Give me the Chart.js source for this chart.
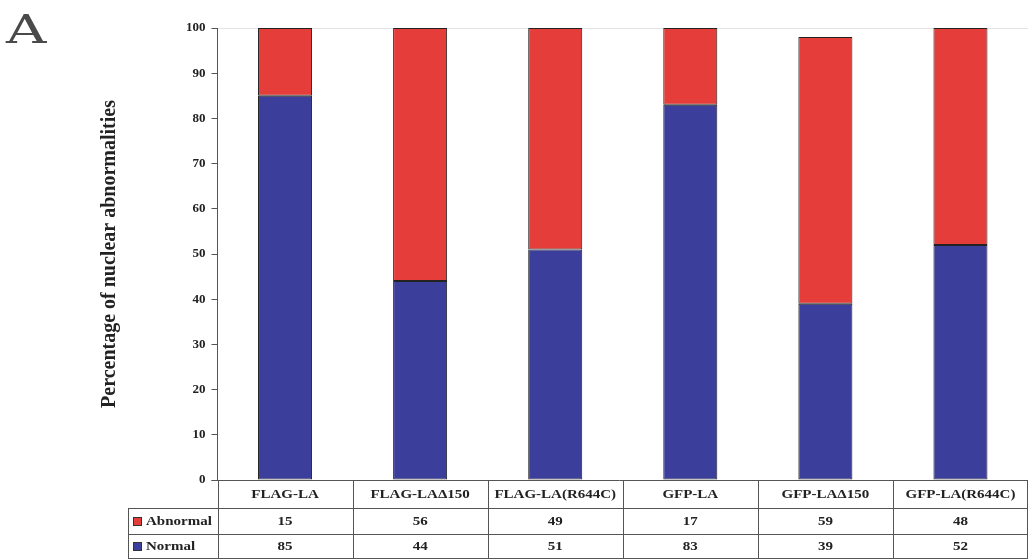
<!DOCTYPE html>
<html>
<head>
<meta charset="utf-8">
<script src="https://cdn.jsdelivr.net/npm/chart.js@4/dist/chart.umd.min.js"></script>
<style>
  html, body { margin: 0; padding: 0; background: #fff; }
  #wrap { width: 1031px; height: 560px; position: relative; }
</style>
</head>
<body>
<div id="wrap"><canvas id="myChart"></canvas></div>
<script>
// data
var categories = ['FLAG-LA', 'FLAG-LA\u0394150', 'FLAG-LA(R644C)', 'GFP-LA', 'GFP-LA\u0394150', 'GFP-LA(R644C)'];
var abnormal = [15, 56, 49, 17, 59, 48];
var normal = [85, 44, 51, 83, 39, 52];
var yTicks = [0, 10, 20, 30, 40, 50, 60, 70, 80, 90, 100];

var serif = '"Liberation Serif", "Times New Roman", serif';
var blue = '#3c3e9c';
var red = '#e53d3a';
var lineCol = '#555';

// text squeezed wider, like the scanned figure
function wideText(c, txt, x, y, sx) {
    c.save();
    c.translate(x, y);
    c.scale(sx, 1);
    c.fillText(txt, 0, 0);
    c.restore();
}

// draws panel letter and the data table under the bars
var tablePlugin = {
    id: 'dataTable',
    afterDraw: function (chart) {
        var c = chart.ctx;
        var area = chart.chartArea;
        var xs = chart.scales.x;
        var colW = (area.right - area.left) / categories.length;
        var top = area.bottom;
        var rows = [top, top + 28, top + 54, top + 78];
        var legendLeft = 128;

        c.save();
        // panel letter
        c.fillStyle = '#4a4a4a';
        c.font = '40px "DejaVu Serif", serif';
        c.textAlign = 'left';
        c.textBaseline = 'alphabetic';
        wideText(c, 'A', 6, 43, 1.4);

        c.strokeStyle = lineCol;
        c.lineWidth = 1;
        c.beginPath();
        // horizontal lines
        c.moveTo(area.left - 6, rows[0] + 0.5); c.lineTo(area.right, rows[0] + 0.5);
        for (var r = 1; r < rows.length; r++) {
            c.moveTo(legendLeft, rows[r] + 0.5); c.lineTo(area.right, rows[r] + 0.5);
        }
        // vertical lines
        c.moveTo(legendLeft + 0.5, rows[1]); c.lineTo(legendLeft + 0.5, rows[3]);
        for (var i = 0; i <= categories.length; i++) {
            var vx = Math.round(area.left + i * colW) + 0.5;
            if (i === categories.length) vx = Math.round(area.right) - 0.5;
            c.moveTo(vx, rows[0]); c.lineTo(vx, rows[3]);
        }
        c.stroke();

        c.fillStyle = '#222';
        c.font = 'bold 12px ' + serif;
        c.textAlign = 'center';
        c.textBaseline = 'middle';
        for (var j = 0; j < categories.length; j++) {
            var cx = xs.getPixelForValue(j);
            wideText(c, categories[j], cx, (rows[0] + rows[1]) / 2 + 1, 1.25);
            wideText(c, String(abnormal[j]), cx, (rows[1] + rows[2]) / 2 + 1, 1.25);
            wideText(c, String(normal[j]), cx, (rows[2] + rows[3]) / 2 + 1, 1.25);
        }

        // legend keys in the table
        var labels = [['Abnormal', red], ['Normal', blue]];
        c.textAlign = 'left';
        c.font = 'bold 12px ' + serif;
        for (var k = 0; k < labels.length; k++) {
            var my = (rows[k + 1] + rows[k + 2]) / 2;
            c.fillStyle = labels[k][1];
            c.fillRect(legendLeft + 5, my - 4, 9, 9);
            c.strokeStyle = '#333';
            c.strokeRect(legendLeft + 5.5, my - 3.5, 8, 8);
            c.fillStyle = '#222';
            wideText(c, labels[k][0], legendLeft + 18, my + 1, 1.25);
        }
        c.restore();
    }
};

var ctx = document.getElementById('myChart');
var myChart = new Chart(ctx, {
    type: 'bar',
    data: {
        labels: categories,
        datasets: [{
            label: 'Normal',
            data: normal,
            backgroundColor: blue,
            borderColor: '#222',
            borderWidth: 1,
            borderSkipped: false
        }, {
            label: 'Abnormal',
            data: abnormal,
            backgroundColor: red,
            borderColor: '#222',
            borderWidth: 1,
            borderSkipped: false
        }]
    },
    options: {
        responsive: true,
        maintainAspectRatio: false,
        animation: false,
        layout: {
            padding: { left: 98, right: 3, top: 28, bottom: 80 }
        },
        plugins: {
            legend: { display: false },
            tooltip: { enabled: false }
        },
        datasets: {
            bar: { barPercentage: 0.4, categoryPercentage: 1.0 }
        },
        scales: {
            x: {
                stacked: true,
                display: false
            },
            y: {
                stacked: true,
                min: 0,
                max: 100,
                afterBuildTicks: function (axis) {
                    axis.ticks = yTicks.map(function (v) { return { value: v }; });
                },
                border: { display: true, color: lineCol, width: 1 },
                grid: {
                    color: function (c) { return c.tick && c.tick.value === 100 ? '#e4e4e4' : 'rgba(0,0,0,0)'; },
                    tickColor: lineCol,
                    tickLength: 6,
                    drawTicks: true
                },
                ticks: {
                    color: '#222',
                    padding: 6,
                    font: { family: serif, size: 13, weight: 'bold' }
                },
                title: {
                    display: true,
                    text: 'Percentage of nuclear abnormalities',
                    color: '#222',
                    padding: { top: 0, bottom: 58 },
                    font: { family: serif, size: 20, weight: 'bold' }
                }
            }
        }
    },
    plugins: [tablePlugin]
});
</script>
</body>
</html>
